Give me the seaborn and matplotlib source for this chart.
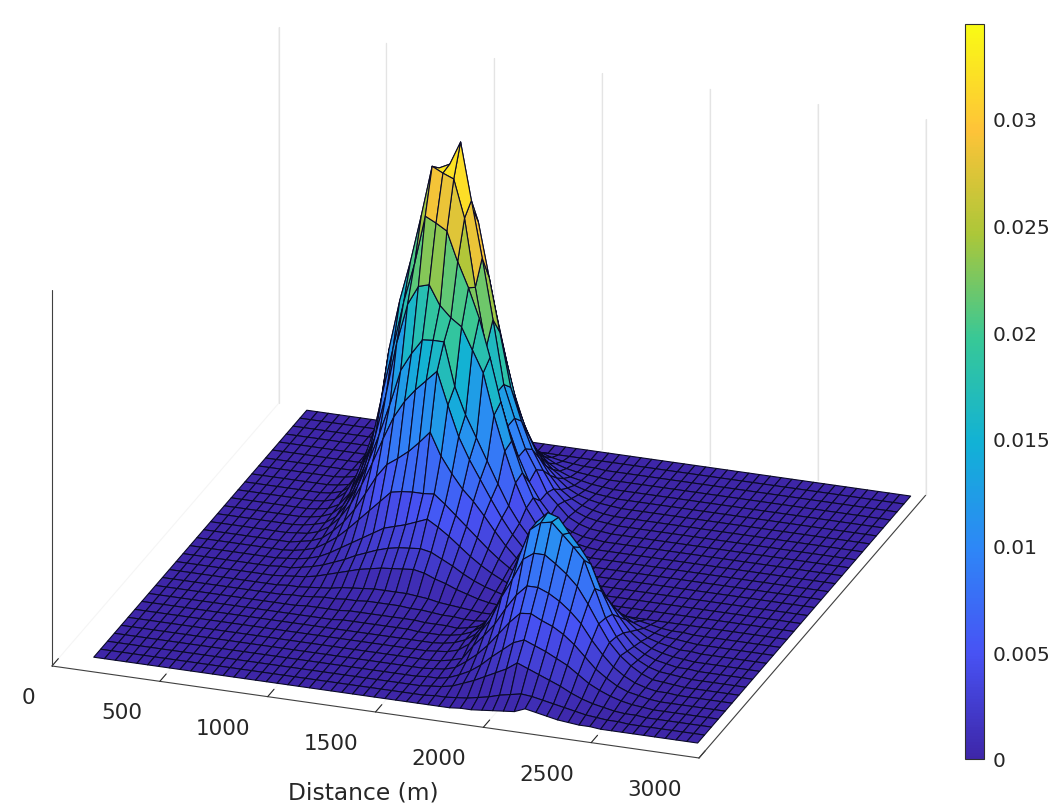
import numpy as np
import seaborn as sns
import matplotlib
matplotlib.use("Agg")
import matplotlib.pyplot as plt
from matplotlib.colors import Normalize
from matplotlib.cm import ScalarMappable
from mpl_toolkits.mplot3d import proj3d

# Colormap key colours (parula-like)
PARULA = [(0.2422,0.1504,0.6603),(0.2810,0.3228,0.9579),(0.1786,0.5289,0.9682),
          (0.0689,0.6948,0.8394),(0.2161,0.7843,0.5923),(0.6720,0.7793,0.2227),
          (0.9970,0.7659,0.2199),(0.9769,0.9839,0.0805)]

x_ticks = [0, 500, 1000, 1500, 2000, 2500, 3000]
x_tick_labels = ["0", "500", "1000", "1500", "2000", "2500", "3000"]
cb_ticks = [0, 0.005, 0.01, 0.015, 0.02, 0.025, 0.03]
cb_labels = ["0", "0.005", "0.01", "0.015", "0.02", "0.025", "0.03"]
x_label = "Distance (m)"
x_nodes = [141 + 50 * k for k in range(57)]
y_nodes = [150 + 91 * k for k in range(32)]

# Heights, in 1e-4 units. Rows 8..29, columns 8..36
PEAK_A = [
[0,0,0,0,0,0,0,0,0,0,1,1,1,1,1,1,1,0,0,0,0,0,0,0,0,0,0,0,0],
[0,0,0,0,0,0,1,1,1,1,2,2,2,2,2,2,2,1,1,1,0,0,0,0,0,0,0,0,0],
[0,0,0,0,1,1,2,3,3,4,4,5,5,5,5,4,4,3,2,2,1,1,0,0,0,0,0,0,0],
[0,0,0,1,1,2,3,4,6,7,8,9,9,9,9,8,7,5,4,3,2,1,1,0,0,0,0,0,0],
[0,0,1,2,3,5,8,11,14,17,19,21,22,23,24,22,18,15,11,8,5,3,2,1,0,0,0,0,0],
[0,1,1,3,5,8,12,16,21,25,29,32,34,35,36,34,29,24,18,13,9,6,3,2,1,0,0,0,0],
[0,1,2,4,7,12,18,24,30,36,42,45,48,52,56,50,43,35,27,20,14,9,5,3,1,1,0,0,0],
[0,1,3,6,12,19,28,38,48,58,68,70,71,71,72,64,55,46,37,28,20,13,7,4,2,1,0,0,0],
[0,2,4,8,16,26,39,55,72,85,92,100,110,121,100,85,72,62,50,37,25,15,9,4,2,1,0,0,0],
[1,2,5,11,21,35,54,76,100,122,138,150,160,170,140,112,92,75,58,42,28,17,10,5,2,1,0,0,0],
[1,3,6,13,26,44,68,95,125,158,175,189,190,190,150,125,105,85,65,46,31,19,11,5,2,1,0,0,0],
[1,3,7,16,32,55,85,125,175,212,230,233,215,205,198,178,158,120,88,60,38,23,13,7,3,1,0,0,0],
[1,3,8,20,42,69,116,160,205,242,288,283,277,250,227,200,165,125,90,62,40,25,14,7,3,1,0,0,0],
[1,4,12,30,55,85,151,198,236,280,327,322,318,283,220,165,125,95,68,46,30,18,10,5,2,1,0,0,0],
[1,4,11,26,48,76,120,165,215,265,318,323,345,292,240,184,125,95,68,50,30,20,10,5,2,1,0,0,0],
[1,3,9,21,40,64,100,140,180,225,260,270,285,265,215,165,115,85,60,42,26,16,8,4,2,1,0,0,0],
[1,3,7,16,31,50,78,110,145,180,205,215,225,215,175,130,90,65,45,30,18,11,6,3,1,0,0,0,0],
[0,2,5,11,22,36,56,80,105,130,150,160,165,155,125,95,65,45,30,20,12,7,4,2,1,0,0,0,0],
[0,1,3,7,14,23,36,52,70,85,100,108,110,100,80,60,42,28,19,12,7,4,2,1,0,0,0,0,0],
[0,1,2,4,8,13,21,30,40,50,60,65,66,60,48,36,25,16,10,6,4,2,1,0,0,0,0,0,0],
[0,0,1,2,4,7,11,16,21,27,32,35,36,32,25,19,13,8,5,3,2,1,0,0,0,0,0,0,0],
[0,0,0,1,2,3,5,7,9,12,14,16,16,14,11,8,5,3,2,1,1,0,0,0,0,0,0,0,0],
]
# Rows 0..12, columns 28..50
PEAK_B = [
[0,0,0,0,0,0,1,1,2,3,4,5,9,7,5,3,2,1,1,0,0,0,0],
[0,0,0,1,1,2,3,5,7,10,12,14,13,11,9,7,5,3,2,1,1,0,0],
[0,0,1,2,4,8,12,17,22,27,34,30,26,22,18,13,9,6,4,2,1,1,0],
[0,1,1,3,7,12,19,28,36,44,48,44,40,35,30,23,16,11,7,4,2,1,0],
[0,1,2,5,12,20,30,42,54,64,65,60,56,50,42,32,22,15,9,5,3,1,0],
[0,1,3,6,19,30,42,58,72,82,82,78,72,64,54,40,28,18,11,6,3,1,1],
[1,2,5,12,24,38,60,78,98,105,105,98,90,80,65,48,32,21,13,7,3,2,1],
[1,3,7,14,28,45,68,92,118,126,128,118,108,97,72,46,30,18,11,6,3,2,1],
[1,3,7,14,28,45,68,92,118,128,125,112,100,86,62,42,26,15,9,5,3,1,1],
[0,2,5,11,22,36,55,76,96,105,100,90,78,62,46,32,20,12,7,4,2,1,0],
[0,1,2,6,12,22,36,52,66,72,70,62,52,42,31,22,14,8,5,3,1,1,0],
[0,0,1,3,6,11,20,30,38,42,40,36,30,24,18,12,8,5,3,2,1,0,0],
[0,0,1,1,3,5,9,14,18,20,19,17,14,11,8,6,4,2,1,1,0,0,0],
]

sns.set_theme(style="white")
plt.rcParams["font.family"] = ["DejaVu Sans"]
plt.rcParams["grid.color"] = "#f5f5f5"
plt.rcParams["grid.linewidth"] = 0.8
plt.rcParams["axes.grid"] = True

Z = np.zeros((len(y_nodes), len(x_nodes)))
Z[8:8 + len(PEAK_A), 8:37] = np.array(PEAK_A) * 1e-4
Z[0:len(PEAK_B), 28:51] = np.maximum(Z[0:len(PEAK_B), 28:51], np.array(PEAK_B) * 1e-4)
X, Y = np.meshgrid(x_nodes, y_nodes)

cmap = sns.blend_palette(PARULA, n_colors=256, as_cmap=True)
norm = Normalize(0, 0.03445)

W, H = 1054, 812
fig = plt.figure(figsize=(W / 100, H / 100), dpi=100, facecolor="white")
ax = fig.add_axes([0.1, 0.1, 0.7, 0.7 * W / H], projection="3d", proj_type="ortho", computed_zorder=False)
ax.set_xlim(0, 3000, view_margin=0)
ax.set_ylim(0, 3000, view_margin=0)
ax.set_zlim(0, 0.035, view_margin=0)
ax.set_box_aspect((1, 1, 0.6))
ax.view_init(elev=23.95, azim=-70.7)

# Place the box so its floor corners land where they do in the chart
fig.canvas.draw()
ax.apply_aspect()
vx, vy, _ = proj3d.proj_transform(np.array([0., 3000.]), np.array([0., 0.]), np.array([0., 0.]), ax.get_proj())
pts = ax.transData.transform(np.c_[vx, vy])
bb = ax.get_position(True)
left, bottom, side = bb.x0 * W, bb.y0 * H, bb.width * W
f = 647.0 / (pts[1, 0] - pts[0, 0])
new_side = side * f
new_left = 52 - (pts[0, 0] - left) * f
new_bottom = (H - 667) - (pts[0, 1] - bottom) * f
ax.set_position([new_left / W, new_bottom / H, new_side / W, new_side / H])

for xt in x_ticks:
    ax.plot([xt, xt], [3000, 3000], [0, 0.035], color="#e4e4e4", lw=0.9, zorder=1)
ax.plot([0, 0], [0, 0], [0, 0.035], color="#404040", lw=0.8, zorder=1)

face = cmap(norm(Z))
ax.plot_surface(X, Y, Z, facecolors=face, rstride=1, cstride=1, shade=False,
                linewidth=0.8, edgecolor="#0a0a28", antialiased=True, zorder=2)

for axis in (ax.xaxis, ax.yaxis, ax.zaxis):
    axis.set_pane_color((1, 1, 1, 0))
    axis.pane.set_edgecolor((1, 1, 1, 0))
    axis.line.set_color("#404040")
    axis.line.set_linewidth(0.8)
ax.zaxis.line.set_color((1, 1, 1, 0))
ax.set_yticks([])
ax.set_zticks([])
ax.set_xticks(x_ticks)
ax.set_xticklabels([""] * len(x_ticks))
ax.xaxis._axinfo["tick"].update(inward_factor=0.0, outward_factor=0.35)
ax.xaxis._axinfo["tick"]["linewidth"] = {True: 0.8, False: 0.8}
ax.xaxis._axinfo["tick"]["color"] = "#404040"
for xt, lab in zip(x_ticks, x_tick_labels):
    ax.text(xt + 40, -341, 0, lab, fontsize=15.5, color="#262626", ha="right", va="center", zorder=3)
ax.xaxis.set_rotate_label(False)
fig.text(363 / W, 1 - 793 / H, x_label, fontsize=16.8, color="#262626", ha="center", va="center")

cax = fig.add_axes([965 / W, (H - 760) / H, 19 / W, 735 / H])
cb = fig.colorbar(ScalarMappable(norm=norm, cmap=cmap), cax=cax)
cb.set_ticks(cb_ticks)
cb.set_ticklabels(cb_labels)
cax.tick_params(axis="y", direction="in", length=6, width=0.7, colors="#262626", labelsize=14.5, pad=6, right=True)
cb.outline.set_linewidth(0.8)
cb.outline.set_edgecolor("#303030")

fig.savefig("out.png", dpi=100)
